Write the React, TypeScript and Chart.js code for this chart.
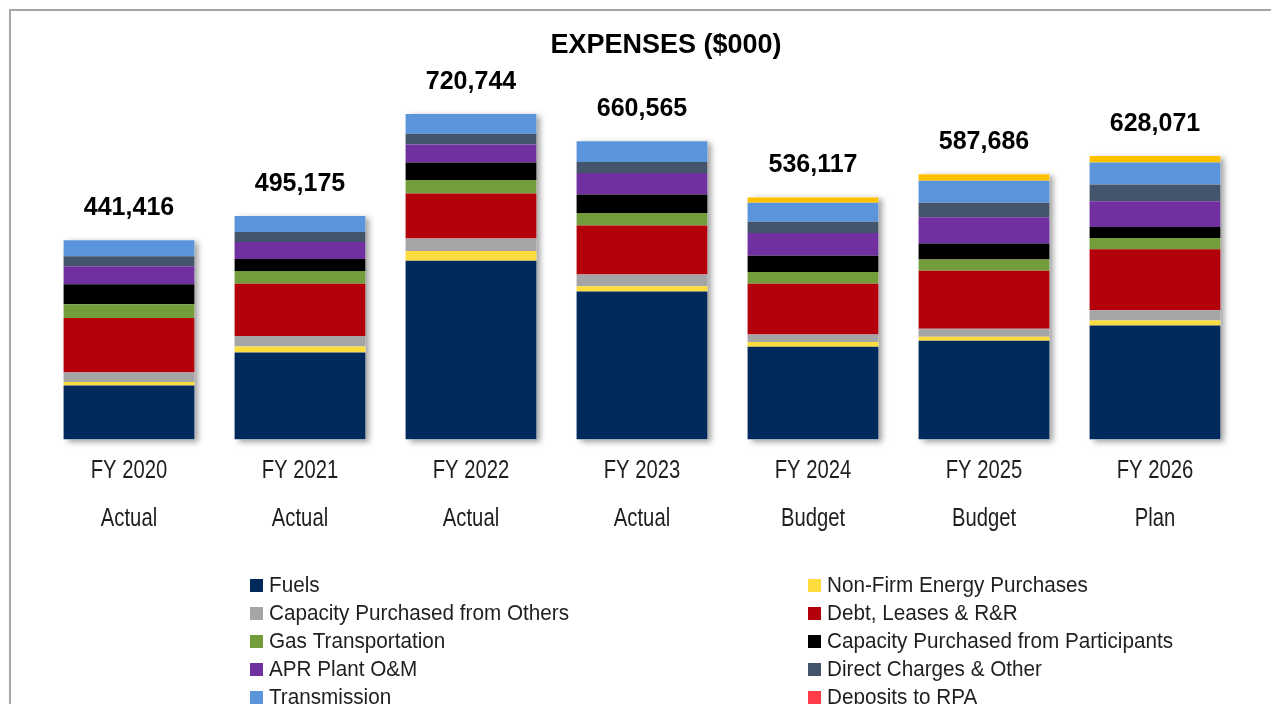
import React, { useEffect, useRef } from "react";
import { Chart, CategoryScale, registerables } from "chart.js";

// ---------- data ----------
const categories = ["FY 2020", "FY 2021", "FY 2022", "FY 2023", "FY 2024", "FY 2025", "FY 2026"];
const periods = ["Actual", "Actual", "Actual", "Actual", "Budget", "Budget", "Plan"];

const fuels = [119566, 192425, 395744, 327665, 205517, 218486, 252271];
const nonFirmEnergy = [8000, 13300, 21500, 11700, 10400, 8900, 11100];
const capacityOthers = [20800, 23700, 28100, 25900, 16800, 17700, 23000];
const debtLeases = [121000, 115800, 99700, 108500, 112300, 128500, 135100];
const gasTransportation = [30300, 28100, 29500, 27900, 25900, 25000, 25000];
const capacityParticipants = [44300, 26600, 39200, 40800, 36100, 35400, 24400];
const aprPlantOM = [39900, 37700, 39900, 47800, 50300, 58500, 56900];
const directCharges = [22150, 22150, 23500, 24400, 25000, 31700, 36800];
const transmission = [35400, 35400, 43600, 45900, 42100, 48700, 48700];
const depositsRPA = [0, 0, 0, 0, 0, 0, 0];
const otherReserve = [0, 0, 0, 0, 11700, 14800, 14800];

const seriesLabels = [
  "Fuels",
  "Non-Firm Energy Purchases",
  "Capacity Purchased from Others",
  "Debt, Leases & R&R",
  "Gas Transportation",
  "Capacity Purchased from Participants",
  "APR Plant O&M",
  "Direct Charges & Other",
  "Transmission",
  "Deposits to RPA",
  "Other",
];
const seriesData = [
  fuels,
  nonFirmEnergy,
  capacityOthers,
  debtLeases,
  gasTransportation,
  capacityParticipants,
  aprPlantOM,
  directCharges,
  transmission,
  depositsRPA,
  otherReserve,
];
const seriesColors = [
  "#002A5C",
  "#FCDC3F",
  "#A5A5A5",
  "#B3000A",
  "#739D3B",
  "#000000",
  "#7030A0",
  "#44546A",
  "#5A95DC",
  "#FF3D4A",
  "#FFC000",
];
const legendCount = 10;

const TITLE = "EXPENSES ($000)";
const SANS = "'Liberation Sans', Arial, Helvetica, sans-serif";

const TICK_SIZE = 25;
const TICK_LH = 1.92;
const TICK_SQUEEZE = 0.81;
const TICK_PAD = 5.5;
const TICK_NUDGE = 2;

const totals = categories.map((_, i) => seriesData.reduce((s, arr) => s + arr[i], 0));

const CANVAS_W = 1310;
const CANVAS_H = 780;

// Category axis whose labels are drawn horizontally condensed (Arial Narrow look)
class NarrowCategoryScale extends CategoryScale {
  static id = "narrowCategory";
  static defaults = {};
  drawLabels() {
    const self: any = this;
    if (!self.options.ticks.display) return;
    const ctx = self.ctx;
    const lh = TICK_SIZE * TICK_LH;
    const labels = self.getLabels();
    ctx.save();
    ctx.font = `${TICK_SIZE}px ${SANS}`;
    ctx.fillStyle = self.options.ticks.color;
    ctx.textAlign = "center";
    ctx.textBaseline = "middle";
    self.ticks.forEach((_t: any, i: number) => {
      const x = self.getPixelForTick(i);
      const raw = labels[i];
      const lines = Array.isArray(raw) ? raw : [raw];
      lines.forEach((line: string, j: number) => {
        const y = self.top + TICK_PAD + TICK_NUDGE + lh / 2 + j * lh;
        ctx.save();
        ctx.translate(x, y);
        ctx.scale(TICK_SQUEEZE, 1);
        ctx.fillText(line, 0, 0);
        ctx.restore();
      });
    });
    ctx.restore();
  }
}

Chart.register(...registerables, NarrowCategoryScale);

const shadowPlugin = {
  id: "barShadow",
  beforeDatasetsDraw(chart: any) {
    const ctx = chart.ctx;
    const y = chart.scales.y;
    const meta = chart.getDatasetMeta(0);
    ctx.save();
    ctx.shadowColor = "rgba(0,0,0,0.38)";
    ctx.shadowBlur = 6;
    ctx.shadowOffsetX = 4;
    ctx.shadowOffsetY = 2;
    ctx.fillStyle = "#ffffff";
    meta.data.forEach((el: any, i: number) => {
      const { x, width } = el.getProps(["x", "width"], true);
      const top = y.getPixelForValue(totals[i]);
      const bottom = y.getPixelForValue(0);
      ctx.fillRect(x - width / 2, top, width, bottom - top);
    });
    ctx.restore();
  },
};

const totalsPlugin = {
  id: "totalsLabels",
  afterDatasetsDraw(chart: any) {
    const ctx = chart.ctx;
    const y = chart.scales.y;
    const meta = chart.getDatasetMeta(0);
    ctx.save();
    ctx.font = `bold 25px ${SANS}`;
    ctx.fillStyle = "#000000";
    ctx.textAlign = "center";
    ctx.textBaseline = "middle";
    meta.data.forEach((el: any, i: number) => {
      const { x } = el.getProps(["x"], true);
      const top = y.getPixelForValue(totals[i]);
      ctx.fillText(totals[i].toLocaleString("en-US"), x, top - 32);
    });
    ctx.restore();
  },
};

const titlePlugin = {
  id: "centerTitle",
  afterDraw(chart: any) {
    const ctx = chart.ctx;
    ctx.save();
    ctx.font = `bold 27px ${SANS}`;
    ctx.fillStyle = "#000000";
    ctx.textAlign = "center";
    ctx.textBaseline = "middle";
    ctx.fillText(TITLE, chart.width / 2, 34.5);
    ctx.restore();
  },
};

const legendPlugin = {
  id: "gridLegend",
  afterDraw(chart: any) {
    const ctx = chart.ctx;
    ctx.save();
    ctx.font = `22px ${SANS}`;
    ctx.textAlign = "left";
    ctx.textBaseline = "middle";
    const colX = [239, 797];
    for (let k = 0; k < legendCount; k++) {
      const ds = chart.data.datasets[k];
      const col = k % 2;
      const row = Math.floor(k / 2);
      const x0 = colX[col];
      const yc = 574.5 + row * 28;
      ctx.fillStyle = ds.backgroundColor;
      ctx.fillRect(x0, yc - 6.5, 13, 13);
      ctx.fillStyle = "#1f1f1f";
      ctx.save();
      ctx.translate(x0 + 19, yc);
      ctx.scale(0.94, 1);
      ctx.fillText(ds.label, 0, 0);
      ctx.restore();
    }
    ctx.restore();
  },
};

export default function App() {
  const canvasRef = useRef<HTMLCanvasElement | null>(null);

  useEffect(() => {
    if (!canvasRef.current) return;
    const chart = new Chart(canvasRef.current, {
      type: "bar",
      data: {
        labels: categories.map((c, i) => [c, periods[i]]),
        datasets: seriesLabels.map((label, k) => ({
          label,
          data: seriesData[k],
          backgroundColor: seriesColors[k],
          borderWidth: 0,
          barPercentage: 0.765,
          categoryPercentage: 1,
          stack: "total",
        })),
      },
      options: {
        animation: false,
        responsive: false,
        maintainAspectRatio: false,
        layout: { padding: { left: 32.5, right: 80.5, top: 67.3, bottom: 244.5 } },
        plugins: {
          legend: { display: false },
          title: { display: false },
          tooltip: { enabled: false },
        },
        scales: {
          x: {
            type: "narrowCategory",
            stacked: true,
            grid: { display: false, drawTicks: false },
            border: { display: false },
            ticks: {
              color: "#1f1f1f",
              padding: TICK_PAD,
              font: { family: SANS, size: TICK_SIZE, lineHeight: TICK_LH },
              maxRotation: 0,
              autoSkip: false,
            },
          },
          y: {
            stacked: true,
            display: false,
            min: 0,
            max: 800000,
          },
        },
      },
      plugins: [shadowPlugin, totalsPlugin, titlePlugin, legendPlugin],
    });
    return () => chart.destroy();
  }, []);

  return (
    <div
      style={{
        position: "absolute",
        left: 0,
        top: 0,
        width: 1271,
        height: 704,
        overflow: "hidden",
        background: "#ffffff",
      }}
    >
      <div
        style={{
          position: "absolute",
          left: 9,
          top: 9,
          width: CANVAS_W,
          height: CANVAS_H,
          border: "2px solid #A6A6A6",
        }}
      >
        <canvas
          ref={canvasRef}
          width={CANVAS_W}
          height={CANVAS_H}
          style={{ width: CANVAS_W, height: CANVAS_H, display: "block" }}
        />
      </div>
    </div>
  );
}
